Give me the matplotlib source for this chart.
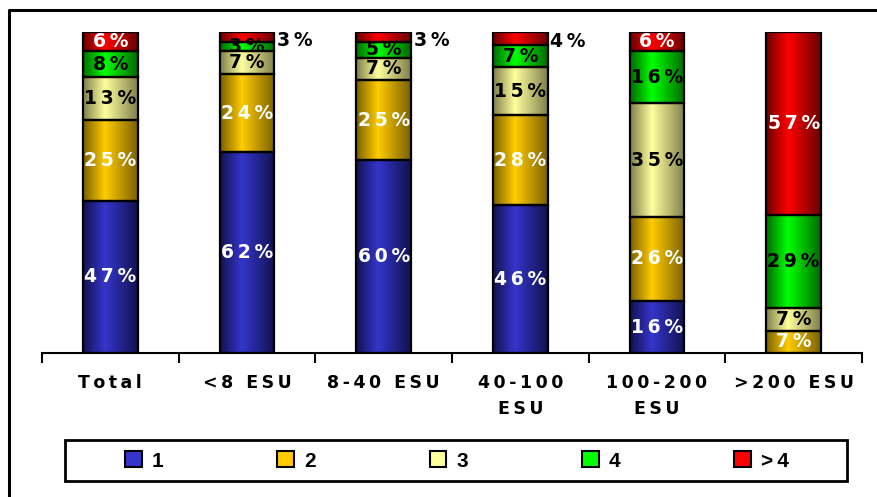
import numpy as np
import matplotlib.pyplot as plt
from matplotlib.colors import LinearSegmentedColormap
from matplotlib.patches import Patch, Rectangle
from matplotlib.lines import Line2D

# Data
categories = ['Total', '<8 ESU', '8-40 ESU', '40-100\nESU', '100-200\nESU', '>200 ESU']
classes = ['1', '2', '3', '4', '>\u20094']
class_1 = [47, 62, 60, 46, 16, 0]
class_2 = [25, 24, 25, 28, 26, 7]
class_3 = [13, 7, 7, 15, 35, 7]
class_4 = [8, 3, 5, 7, 16, 29]
class_5 = [6, 3, 3, 4, 6, 57]

series = [class_1, class_2, class_3, class_4, class_5]
# (bright centre, dark edge) for the cylinder-like shading
shades = [('#3535cc', '#121250'),
          ('#ffcc00', '#7a6000'),
          ('#ffff9c', '#7f7f4c'),
          ('#00ff00', '#006a00'),
          ('#ff0000', '#6a0000')]
text_colors = ['white', 'white', 'black', 'black', 'white']

fig = plt.figure(figsize=(8.77, 4.97), dpi=100)
ax = fig.add_axes([42 / 877, 1 - 353 / 497, 820 / 877, 321 / 497])

x = np.arange(len(categories))
width = 0.4
totals = np.sum(series, axis=0)
grad = np.linspace(0, 1, 256).reshape(1, -1)

def spaced(s, sep='\u2009'):
    return sep.join(s)

bottom = np.zeros(len(categories))
for k, vals in enumerate(series):
    pct = np.array(vals) / totals * 100
    cmap = LinearSegmentedColormap.from_list('c%d' % k, [(0, shades[k][1]), (0.4, shades[k][0]), (1, shades[k][1])])
    for i in range(len(categories)):
        if vals[i] == 0:
            continue
        y0, y1 = bottom[i], bottom[i] + pct[i]
        ax.imshow(grad, extent=[x[i] - width / 2, x[i] + width / 2, y0, y1],
                  cmap=cmap, aspect='auto', zorder=2, interpolation='bilinear')
        ax.bar(x[i], pct[i], width, bottom=y0, facecolor='none',
               edgecolor='black', linewidth=1.6, zorder=3)
        label = spaced('%d%%' % vals[i])
        if k == 4 and vals[i] < 5:
            # small top slices get their label beside the bar
            ax.text(x[i] + width / 2 + 0.02, (y0 + y1) / 2 - 1, label, ha='left', va='center',
                    fontsize=13.5, fontweight='bold', color='black', zorder=4)
        else:
            ax.text(x[i], (y0 + y1) / 2, label, ha='center', va='center',
                    fontsize=13.5, fontweight='bold', color=text_colors[k], zorder=4)
    bottom += pct

ax.set_xlim(-0.5, len(categories) - 0.5)
ax.set_ylim(0, 100)
ax.set_yticks([])
for s in ['top', 'right', 'left']:
    ax.spines[s].set_visible(False)
ax.spines['bottom'].set_linewidth(1.5)
ax.set_xticks(x)
ax.set_xticklabels(['\n'.join(spaced(part) for part in c.split('\n')) for c in categories],
                   fontsize=12.5, fontweight='bold', linespacing=1.55, va='top')
ax.set_xticks(np.arange(-0.5, len(categories)), minor=True)
ax.tick_params(axis='x', which='major', length=0, pad=15)
ax.tick_params(axis='x', which='minor', length=7, width=1.5, direction='out')

# Legend
handles = [Patch(facecolor=shades[k][0], edgecolor='black', linewidth=1.5) for k in range(5)]
fig.legend(handles, classes, loc='center', bbox_to_anchor=(457 / 877, 1 - 461 / 497),
           ncol=5, frameon=False, handlelength=0.8, handleheight=0.8, handletextpad=0.5,
           columnspacing=5.45, prop={'family': 'Liberation Sans', 'weight': 'bold', 'size': 15})
fig.add_artist(Rectangle((65 / 877, 1 - 481 / 497), 782 / 877, 41 / 497, transform=fig.transFigure,
                         facecolor='none', edgecolor='black', linewidth=2))

# Outer chart border
fig.add_artist(Line2D([9 / 877, 9 / 877, 1], [0, 1 - 10 / 497, 1 - 10 / 497],
                      transform=fig.transFigure, color='black', linewidth=2.2))

fig.savefig('out.png', dpi=100)
